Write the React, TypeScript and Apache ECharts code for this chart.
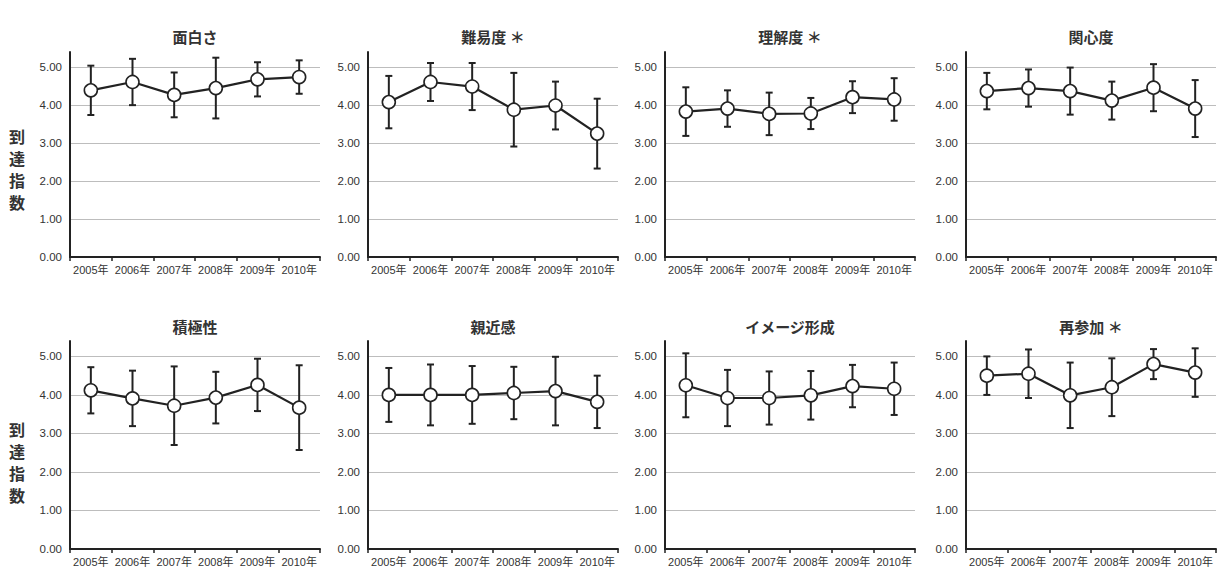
import React, { useEffect, useRef } from 'react';
import * as echarts from 'echarts';

const categories = ['2005年', '2006年', '2007年', '2008年', '2009年', '2010年'];
const panelTitles = ['面白さ', '難易度 ＊', '理解度 ＊', '関心度', '積極性', '親近感', 'イメージ形成', '再参加 ＊'];
const yTickValues = [0, 1, 2, 3, 4, 5];
const yAxisName = '到達指数';

const meanOmoshirosa = [4.39, 4.61, 4.27, 4.45, 4.68, 4.74];
const sdOmoshirosa = [0.65, 0.61, 0.59, 0.8, 0.45, 0.44];
const meanNaneido = [4.08, 4.61, 4.49, 3.88, 3.99, 3.25];
const sdNaneido = [0.69, 0.5, 0.62, 0.97, 0.63, 0.92];
const meanRikaido = [3.83, 3.91, 3.77, 3.78, 4.21, 4.15];
const sdRikaido = [0.64, 0.48, 0.56, 0.41, 0.42, 0.56];
const meanKanshindo = [4.37, 4.45, 4.37, 4.12, 4.46, 3.91];
const sdKanshindo = [0.48, 0.49, 0.62, 0.5, 0.62, 0.75];
const meanSekkyokusei = [4.12, 3.91, 3.72, 3.93, 4.26, 3.67];
const sdSekkyokusei = [0.6, 0.72, 1.02, 0.67, 0.68, 1.1];
const meanShinkinkan = [4.0, 4.0, 4.0, 4.05, 4.1, 3.82];
const sdShinkinkan = [0.7, 0.79, 0.75, 0.68, 0.89, 0.68];
const meanImage = [4.25, 3.92, 3.92, 3.99, 4.23, 4.16];
const sdImage = [0.83, 0.73, 0.69, 0.63, 0.55, 0.68];
const meanSaisanka = [4.5, 4.55, 3.99, 4.2, 4.8, 4.58];
const sdSaisanka = [0.5, 0.63, 0.85, 0.75, 0.39, 0.63];

const allMeans = [meanOmoshirosa, meanNaneido, meanRikaido, meanKanshindo, meanSekkyokusei, meanShinkinkan, meanImage, meanSaisanka];
const allSds = [sdOmoshirosa, sdNaneido, sdRikaido, sdKanshindo, sdSekkyokusei, sdShinkinkan, sdImage, sdSaisanka];

const FONT = '"Liberation Sans", Arial, "Noto Sans CJK JP", sans-serif';
const CJK = '"Noto Sans CJK JP", sans-serif';

export default function App() {
  const ref = useRef<HTMLDivElement>(null);
  useEffect(() => {
    if (!ref.current) return;
    const chart = echarts.init(ref.current, undefined, { renderer: 'svg' });
    const lefts = [70, 368, 665, 966];
    const rows = [
      { top: 52, height: 205, titleY: 36, nameY: 169 },
      { top: 341, height: 208, titleY: 326, nameY: 462 },
    ];
    const width = 250;
    const grids: any[] = [];
    const xAxes: any[] = [];
    const yAxes: any[] = [];
    const series: any[] = [];
    const graphics: any[] = [];
    for (let i = 0; i < 8; i++) {
      const r = rows[Math.floor(i / 4)];
      const left = lefts[i % 4];
      grids.push({ left, top: r.top, width, height: r.height, containLabel: false });
      xAxes.push({
        type: 'category',
        gridIndex: i,
        data: categories,
        boundaryGap: true,
        axisLine: { lineStyle: { color: '#222', width: 2 } },
        axisTick: { show: true, length: 4, lineStyle: { color: '#222', width: 1.5 } },
        axisLabel: { interval: 0, fontSize: 11, margin: 7, color: '#333', fontFamily: FONT },
        splitLine: { show: false },
      });
      yAxes.push({
        type: 'value',
        gridIndex: i,
        min: yTickValues[0],
        max: 5.4,
        interval: 1,
        axisLine: { show: true, lineStyle: { color: '#222', width: 2 } },
        axisTick: { show: false },
        axisLabel: {
          showMaxLabel: false,
          fontSize: 11.5,
          margin: 8,
          color: '#333',
          fontFamily: FONT,
          formatter: (v: number) => v.toFixed(2),
        },
        splitLine: { show: true, showMinLine: false, showMaxLine: false, lineStyle: { color: '#bdbdbd', width: 1.2 } },
      });
      const means = allMeans[i];
      const sds = allSds[i];
      series.push({
        type: 'custom',
        xAxisIndex: i,
        yAxisIndex: i,
        z: 2,
        encode: { x: 0, y: [1, 2] },
        data: means.map((m, k) => [k, m - sds[k], m + sds[k]]),
        renderItem: (params: any, api: any) => {
          const x = api.value(0);
          const pLo = api.coord([x, api.value(1)]);
          const pHi = api.coord([x, api.value(2)]);
          const cw = 3.5;
          const style = { stroke: '#222', lineWidth: 2 };
          return {
            type: 'group',
            children: [
              { type: 'line', shape: { x1: pLo[0], y1: pLo[1], x2: pHi[0], y2: pHi[1] }, style },
              { type: 'line', shape: { x1: pLo[0] - cw, y1: pLo[1], x2: pLo[0] + cw, y2: pLo[1] }, style },
              { type: 'line', shape: { x1: pHi[0] - cw, y1: pHi[1], x2: pHi[0] + cw, y2: pHi[1] }, style },
            ],
          };
        },
      });
      series.push({
        type: 'line',
        xAxisIndex: i,
        yAxisIndex: i,
        z: 3,
        data: means,
        symbol: 'circle',
        symbolSize: 13,
        itemStyle: { color: '#fff', borderColor: '#222', borderWidth: 1.6 },
        lineStyle: { color: '#222', width: 2.2 },
      });
      graphics.push({
        type: 'text',
        x: left + width / 2,
        y: r.titleY,
        style: {
          text: panelTitles[i],
          fill: '#333',
          font: `bold 15px ${CJK}`,
          textAlign: 'center',
          textVerticalAlign: 'middle',
        },
      });
    }
    rows.forEach((r) => {
      graphics.push({
        type: 'text',
        x: 17,
        y: r.nameY,
        style: {
          text: yAxisName.split('').join('\n'),
          fill: '#333',
          font: `bold 16px ${CJK}`,
          lineHeight: 22,
          textAlign: 'center',
          textVerticalAlign: 'middle',
        },
      });
    });
    chart.setOption({
      animation: false,
      backgroundColor: '#fff',
      grid: grids,
      xAxis: xAxes,
      yAxis: yAxes,
      series,
      graphic: graphics,
    });
    return () => chart.dispose();
  }, []);
  return <div ref={ref} style={{ position: 'fixed', left: 0, top: 0, width: 1218, height: 568 }} />;
}
